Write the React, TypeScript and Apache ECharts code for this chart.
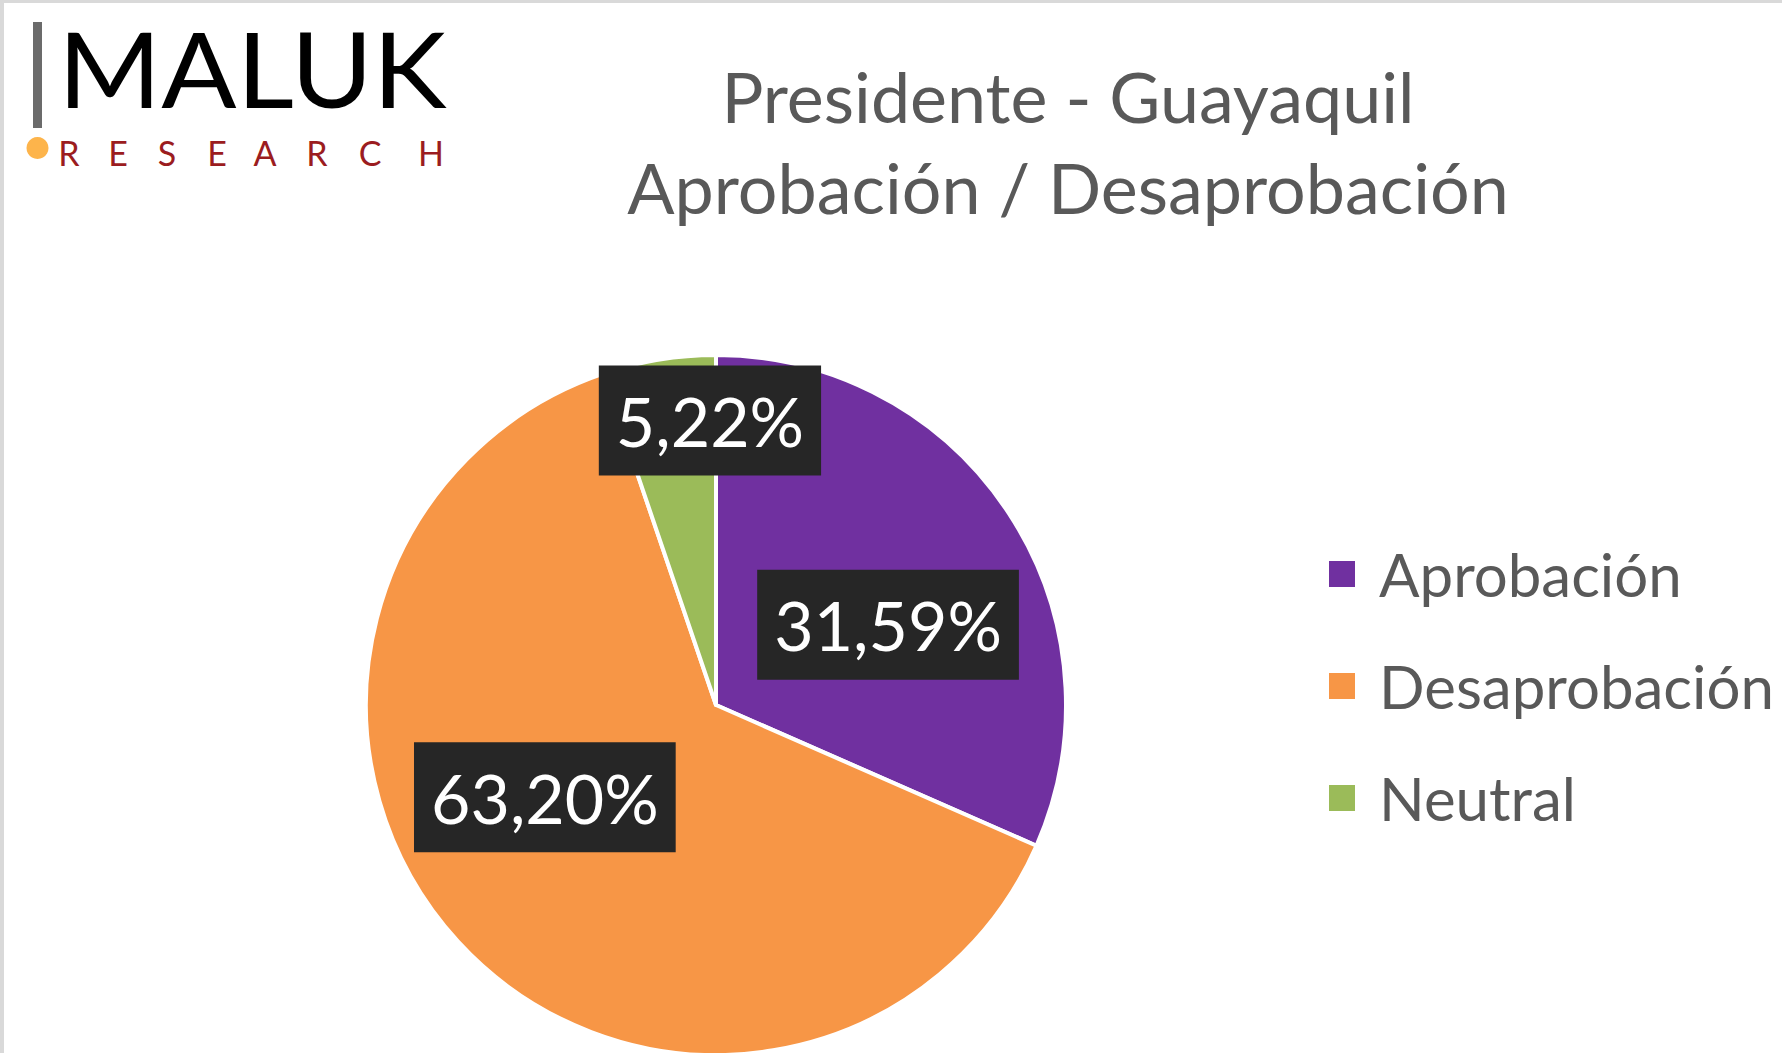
import React, { useEffect, useRef } from "react";
import * as echarts from "echarts";

const categories = ["Aprobación", "Desaprobación", "Neutral"];
const values = [31.59, 63.2, 5.22];
const labelTexts = ["31,59%", "63,20%", "5,22%"];
const titleLines = ["Presidente - Guayaquil", "Aprobación / Desaprobación"];

const colors = ["#7030A0", "#F79646", "#9BBB59"];
const labelOffsets = [
  [23, 17],
  [-40, -28],
  [23, -109],
];

const researchLetters = ["R", "E", "S", "E", "A", "R", "C", "H"];
const researchCenters = [69, 118, 167, 217, 265, 317, 370, 431];

export default function App() {
  const ref = useRef<HTMLDivElement>(null);
  useEffect(() => {
    document.body.style.margin = "0";
    const chart = echarts.init(ref.current!, null, { renderer: "svg" });
    const font = "Lato, 'Open Sans', sans-serif";
    const option: any = {
      animation: false,
      backgroundColor: "#ffffff",
      title: {
        text: titleLines.join("\n"),
        left: 1063,
        top: 45,
        textAlign: "center",
        textStyle: {
          fontFamily: font,
          fontSize: 70,
          fontWeight: "normal",
          color: "#595959",
          lineHeight: 91,
        },
      },
      legend: {
        orient: "vertical",
        left: 1322,
        top: 534,
        icon: "rect",
        itemWidth: 28,
        itemHeight: 28,
        itemGap: 42,
        data: categories,
        textStyle: {
          fontFamily: font,
          fontSize: 60,
          color: "#595959",
          lineHeight: 70,
          padding: [0, 0, 0, 18],
        },
      },
      graphic: [
        { type: "rect", shape: { x: 0, y: 0, width: 4, height: 1053 }, style: { fill: "#d9d9d9" } },
        { type: "rect", shape: { x: 0, y: 0, width: 1782, height: 3 }, style: { fill: "#d9d9d9" } },
        { type: "rect", shape: { x: 33, y: 22, width: 9, height: 106 }, style: { fill: "#6b6b6b" } },
        {
          type: "text",
          x: 58,
          y: 120,
          scaleX: 1.07,
          style: {
            text: "MALUK",
            font: `normal 104px ${font}`,
            fill: "#000000",
            textVerticalAlign: "bottom",
          },
        },
        { type: "circle", shape: { cx: 37.5, cy: 148, r: 11 }, style: { fill: "#FDB44B" } },
        ...researchLetters.map((ch, i) => ({
          type: "text",
          x: researchCenters[i],
          y: 152.5,
          style: {
            text: ch,
            font: `normal 34px ${font}`,
            fill: "#9B1C20",
            textAlign: "center",
            textVerticalAlign: "middle",
          },
        })),
      ],
      series: [
        {
          type: "pie",
          center: [716, 705],
          radius: 350,
          startAngle: 90,
          clockwise: true,
          avoidLabelOverlap: false,
          itemStyle: { borderColor: "#ffffff", borderWidth: 4 },
          labelLine: { show: false },
          data: categories.map((name, i) => ({
            name,
            value: values[i],
            itemStyle: { color: colors[i] },
            label: {
              show: true,
              position: "inside",
              formatter: labelTexts[i],
              offset: labelOffsets[i],
              fontFamily: font,
              fontSize: 68,
              lineHeight: 80,
              color: "#ffffff",
              backgroundColor: "#262626",
              padding: [15, 17],
            },
          })),
        },
      ],
    };
    chart.setOption(option);
    return () => chart.dispose();
  }, []);
  return (
    <div
      ref={ref}
      style={{ position: "absolute", left: 0, top: 0, width: 1782, height: 1053 }}
    />
  );
}
